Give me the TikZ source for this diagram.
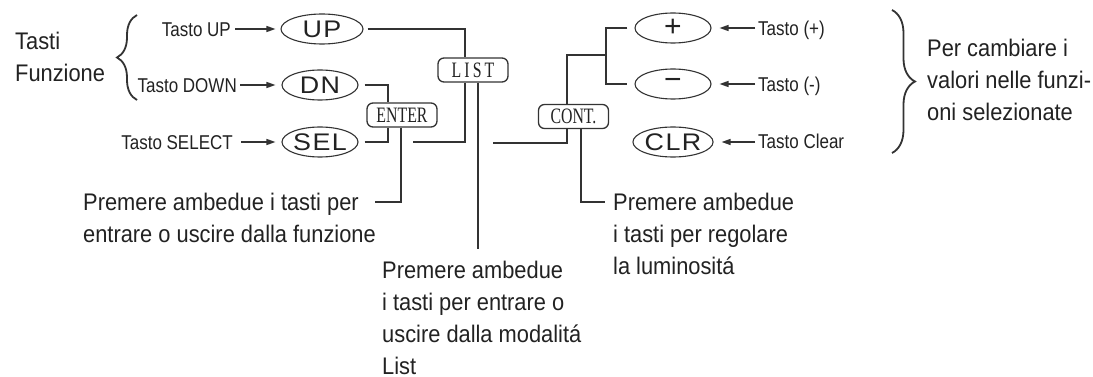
\documentclass[tikz,border=0pt]{standalone}
\usepackage{fontspec}
\setmainfont{Liberation Sans}[FakeStretch=0.91]
\newfontfamily\smallf{Liberation Sans}[FakeStretch=0.85]
\newfontfamily\keyf{Liberation Sans}[FakeStretch=1.12,LetterSpace=6]
\newfontfamily\symf{Liberation Sans}
\newfontfamily\boxf{Liberation Serif}[FakeStretch=0.72]
\newfontfamily\listf{Liberation Serif}[FakeStretch=0.72,LetterSpace=14]
\usetikzlibrary{arrows.meta,decorations.pathreplacing,shapes.geometric,calc}
\definecolor{ink}{HTML}{222222}
\definecolor{wirec}{HTML}{333333}
\tikzset{
  key/.style={ellipse, draw=wirec, line width=1.1pt, minimum width=76pt, minimum height=30pt, inner sep=0pt, font=\keyf\fontsize{24}{24}\selectfont, text=ink},
  rbox/.style={rounded corners=6pt, draw=wirec, line width=1.3pt, minimum width=70pt, minimum height=24pt, inner sep=0pt, font=\boxf\fontsize{22}{22}\selectfont, text=ink},
  lbl/.style={font=\smallf\fontsize{20}{20}\selectfont, inner sep=0pt, text=ink},
  big/.style={font=\fontsize{24}{32}\selectfont, align=left, inner sep=0pt, text=ink},
  wire/.style={draw=wirec, line width=1.3pt},
  arr/.style={wire, -{Stealth[length=9pt,width=6pt,inset=0pt]}},
  bracew/.style={draw=wirec, line width=1.8pt, decorate},
}
\begin{document}
\begin{tikzpicture}[x=1pt,y=-1pt]
\fill[white] (0,0) rectangle (1093,377);
\useasboundingbox (0,0) rectangle (1093,377);

% keys
\node[key, minimum width=82pt] (up) at (322,29) {UP};
\node[key] (dn) at (320,85) {DN};
\node[key] (sel) at (320,142) {SEL};
\node[key] (plus) at (673,28) {\symf\fontsize{30}{30}\selectfont +};
\node[key] (minus) at (673,84) {\symf\fontsize{30}{30}\selectfont \symbol{"2212}};
\node[key] (clr) at (673,142) {CLR};

% boxes
\node[rbox, font=\listf\fontsize{22}{22}\selectfont] (list) at (473,70) {LIST};
\node[rbox] (enter) at (402,115) {ENTER};
\node[rbox] (cont) at (573.5,116.5) {CONT.};

% small labels
\node[lbl, anchor=base east] (tup) at (231,37) {Tasto UP};
\node[lbl, anchor=base east] (tdn) at (237,93) {Tasto DOWN};
\node[lbl, anchor=base east] (tsel) at (233,150) {Tasto SELECT};
\node[lbl, anchor=base west] (tplus) at (758,36) {Tasto (+)};
\node[lbl, anchor=base west] (tminus) at (758,92) {Tasto (-)};
\node[lbl, anchor=base west] (tclr) at (758,149) {Tasto Clear};

% big texts (base anchor = baseline of last line)
\node[big, anchor=base west] (tasti) at (15,82) {Tasti\\Funzione};
\node[big, anchor=base west] (per) at (927,121) {Per cambiare i\\valori nelle funzi-\\oni selezionate};
\node[big, anchor=base west] (entt) at (83,242) {Premere ambedue i tasti per\\entrare o uscire dalla funzione};
\node[big, anchor=base west] (listt) at (382,374) {Premere ambedue\\i tasti per entrare o\\uscire dalla modalitá\\List};
\node[big, anchor=base west] (contt) at (613,274) {Premere ambedue\\i tasti per regolare\\la luminositá};

% braces
\draw[bracew, decoration={brace, amplitude=20pt}] (137,100) -- (137,15);
\draw[bracew, decoration={brace, amplitude=23pt}] (892,10) -- (892,153);

% arrows
\draw[arr] ($(tup.east |- up.west)+(4,0)$) -- ($(up.west)+(-5,0)$);
\draw[arr] ($(tdn.east |- dn.west)+(3,0)$) -- ($(dn.west)+(-6,0)$);
\draw[arr] ($(tsel.east |- sel.west)+(8,0)$) -- ($(sel.west)+(-6,0)$);
\draw[arr] ($(tplus.west |- plus.east)+(-3,0)$) -- ($(plus.east)+(8,0)$);
\draw[arr] ($(tminus.west |- minus.east)+(-3,0)$) -- ($(minus.east)+(8,0)$);
\draw[arr] ($(tclr.west |- clr.east)+(-3,0)$) -- ($(clr.east)+(8,0)$);

% coordinates for free ends
\coordinate (gapR) at (413,142);
\coordinate (entx) at (375,202);
\coordinate (listx) at (478,249);
\coordinate (contL) at (493,143);
\coordinate (fork) at (606,55);
\coordinate (contx) at (605,202);

% connectors
\draw[wire] ($(up.east)+(4,0)$) -| ([xshift=-8pt]list.north);
\draw[wire] ([xshift=-8pt]list.south) |- (gapR);
\draw[wire] ($(dn.east)+(6,0)$) -| ([xshift=-14pt]enter.north);
\draw[wire] ($(sel.east)+(6,0)$) -| ([xshift=-14pt]enter.south);
\draw[wire] ([xshift=-1pt]enter.south) |- (entx);
\draw[wire] ([xshift=5pt]list.south) -- (listx);
\draw[wire] (contL) -| ([xshift=-6.5pt]cont.south);
\draw[wire] ([xshift=-6.5pt]cont.north) |- (fork);
\draw[wire] ($(plus.west)+(-7,0)$) -| (fork) |- ($(minus.west)+(-7,0)$);
\draw[wire] ([xshift=7.5pt]cont.south) |- (contx);
\end{tikzpicture}
\end{document}
